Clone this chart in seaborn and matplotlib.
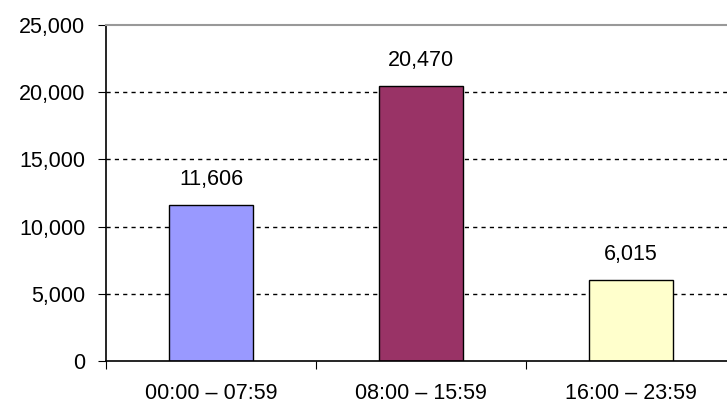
import matplotlib
matplotlib.use("Agg")
import matplotlib.pyplot as plt
import seaborn as sns
import pandas as pd
from matplotlib.ticker import FixedLocator, FuncFormatter

categories = ["00:00 – 07:59", "08:00 – 15:59", "16:00 – 23:59"]
values = [11606, 20470, 6015]
colors = ["#9999FF", "#993366", "#FFFFCC"]
yticks = [0, 5000, 10000, 15000, 20000, 25000]

sns.set_theme(style="white")
plt.rcParams['font.family'] = ['Liberation Sans', 'DejaVu Sans']

df = pd.DataFrame({"cat": categories, "val": values})

fig = plt.figure(figsize=(7.27, 4.08), dpi=100)
ax = fig.add_axes([106/727, 47/408, 630/727, 336/408])

sns.barplot(data=df, x="cat", y="val", hue="cat", palette=colors, width=0.4,
            edgecolor="black", linewidth=1.0, legend=False, ax=ax, saturation=1)

ax.set_xlim(-0.5, 2.5)
ax.set_ylim(0, 25000)
ax.set_yticks(yticks)
ax.yaxis.set_major_formatter(FuncFormatter(lambda v, p: f"{int(v):,}"))
ax.set_xlabel("")
ax.set_ylabel("")

for y in yticks[1:-1]:
    ax.axhline(y, color="black", linestyle=(0, (3, 3)), linewidth=1.0, zorder=0)

for i, v in enumerate(values):
    ax.annotate(f"{v:,}", (i, v), xytext=(0, 11), textcoords="offset points",
                ha="center", va="bottom", fontsize=15.5, color="black")

ax.tick_params(axis="y", direction="out", length=6, width=0.8, color="black",
               left=True, pad=9, labelsize=15.5, labelcolor="black")
ax.tick_params(axis="x", which="major", length=0, pad=16, labelsize=15.5, labelcolor="black")
ax.xaxis.set_minor_locator(FixedLocator([-0.5, 0.5, 1.5]))
ax.tick_params(axis="x", which="minor", direction="out", length=6, width=0.8,
               color="black", bottom=True)

for s in ["left", "bottom"]:
    ax.spines[s].set_color("black")
    ax.spines[s].set_linewidth(1.2)
ax.spines["top"].set_color("#999999")
ax.spines["top"].set_linewidth(1.5)
ax.spines["right"].set_visible(False)

fig.savefig("out.png", dpi=100)
